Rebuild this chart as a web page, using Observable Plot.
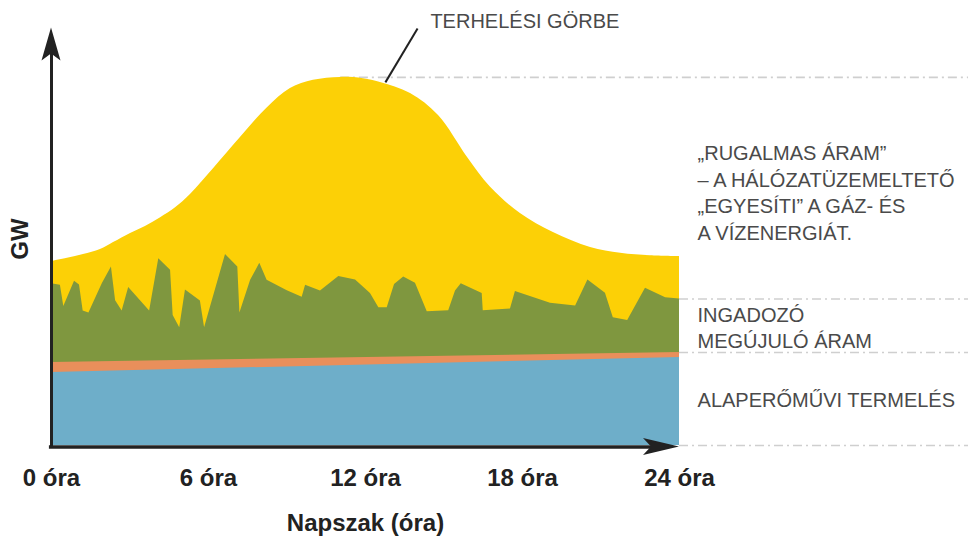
<!DOCTYPE html>
<html>
<head>
<meta charset="utf-8">
<script src="https://cdn.jsdelivr.net/npm/d3@7"></script>
<script src="https://cdn.jsdelivr.net/npm/@observablehq/plot@0.6"></script>
<style>
  body { margin: 0; background: #fff; }
  #chart { width: 968px; height: 536px; }
</style>
</head>
<body>
<div id="chart"></div>
<script>
// ---- Data (y in arbitrary GW units, 0..100) ----
const loadHours  = [0, 0.61, 1.22, 1.87, 2.37, 3.02, 3.59, 4.17, 4.74, 5.31, 6.19, 7.22, 8.25, 9.13, 10.01, 11.04, 11.92, 12.57, 13.72, 14.79, 15.9, 16.78, 17.92, 19.18, 20.6, 21.75, 22.89, 24];
const loadValues = [44.3, 45.1, 46.0, 47.2, 48.9, 51.1, 52.8, 54.9, 57.3, 60.5, 66.7, 74.2, 81.4, 86.0, 88.0, 88.7, 88.4, 87.5, 84.8, 79.5, 69.4, 62.2, 55.9, 51.3, 47.7, 46.3, 45.7, 45.5];

const renewHours  = [0, 0.34, 0.47, 0.88, 1.07, 1.21, 1.43, 1.94, 2.29, 2.45, 2.70, 2.95, 3.75, 4.10, 4.55, 4.65, 4.90, 5.12, 5.69, 5.85, 6.65, 7.12, 7.20, 7.61, 7.96, 8.24, 9.01, 9.58, 9.71, 10.28, 10.98, 11.62, 12.19, 12.51, 12.83, 13.11, 13.46, 13.91, 14.36, 15.18, 15.44, 15.66, 16.46, 16.50, 17.54, 17.73, 19.07, 20.03, 20.50, 21.17, 21.47, 22.02, 22.70, 23.47, 24];
const renewValues = [39.0, 38.6, 33.5, 39.6, 38.7, 32.4, 31.9, 39.0, 43.0, 34.9, 32.4, 38.1, 32.4, 45.0, 42.2, 31.3, 28.4, 37.5, 34.8, 28.4, 46.0, 43.0, 31.9, 39.8, 43.9, 39.8, 37.3, 35.7, 38.6, 37.2, 40.7, 39.9, 36.6, 33.2, 33.2, 38.8, 40.6, 39.1, 32.2, 32.5, 37.2, 39.0, 36.6, 32.5, 32.9, 37.1, 34.3, 33.6, 39.9, 36.7, 30.8, 30.1, 37.9, 35.6, 35.3];

const bandHours   = [0, 24];
const otherValues = [20.0, 22.4];   // orange strip (top)
const baseValues  = [17.6, 21.2];   // base-load generation (top)

const tickHours  = [0, 6, 12, 18, 24];
const tickLabels = ["0 óra", "6 óra", "12 óra", "18 óra", "24 óra"];
const xTitle = "Napszak (óra)";
const yTitle = "GW";

const curveLabel = "TERHELÉSI GÖRBE";
const sideLabels = [
  "„RUGALMAS ÁRAM”\n– A HÁLÓZATÜZEMELTETŐ\n„EGYESÍTI” A GÁZ- ÉS\nA VÍZENERGIÁT.",
  "INGADOZÓ\nMEGÚJULÓ ÁRAM",
  "ALAPERŐMŰVI TERMELÉS"
];
const sideLabelValues = [61.2, 28.6, 11.3];

// ---- Tables built from the arrays ----
const load  = loadHours.map((h, i) => ({h, v: loadValues[i]}));
const renew = renewHours.map((h, i) => ({h, v: renewValues[i]}));
const other = bandHours.map((h, i) => ({h, v: otherValues[i]}));
const base  = bandHours.map((h, i) => ({h, v: baseValues[i]}));
const peakIdx = loadValues.indexOf(d3.max(loadValues));
const rightEdge = 35.1;
const guides = [
  {v: loadValues[peakIdx], x1: loadHours[peakIdx], x2: rightEdge},
  {v: renewValues[renewValues.length - 1], x1: 24, x2: rightEdge},
  {v: otherValues[otherValues.length - 1], x1: 24, x2: rightEdge},
  {v: 0, x1: 24, x2: rightEdge}
];
const leader = [{x1: 12.76, y1: 87.5, x2: 13.99, y2: 100.5}];
const titleRow = [{h: 14.48, v: 102.2, t: curveLabel}];
const sideRows = sideLabels.map((t, i) => ({h: 24.69, v: sideLabelValues[i], t}));

const font = "'Liberation Sans', Arial, Helvetica, sans-serif";

const plot = Plot.plot({
  width: 968,
  height: 536,
  marginLeft: 51,
  marginRight: 289,
  marginTop: 30,
  marginBottom: 91,
  x: {domain: [0, 24], axis: null},
  y: {domain: [0, 100], axis: null},
  style: {fontFamily: font, background: "transparent", overflow: "visible"},
  marks: [
    Plot.ruleY(guides, {y: "v", x1: "x1", x2: "x2", stroke: "#cfcfcf", strokeWidth: 1.6, strokeDasharray: "9,4,2,4"}),
    Plot.areaY(load, {x: "h", y: "v", fill: "#fcd006", curve: "catmull-rom"}),
    Plot.areaY(renew, {x: "h", y: "v", fill: "#7f973f"}),
    Plot.areaY(other, {x: "h", y: "v", fill: "#e98f5b"}),
    Plot.areaY(base, {x: "h", y: "v", fill: "#6eaec9"}),
    Plot.ruleX([0], {y1: -0.4, y2: 96, stroke: "#222", strokeWidth: 3}),
    Plot.ruleY([0], {y: d => d - 0.35, x1: -0.08, x2: 23, stroke: "#222", strokeWidth: 3.5}),
    Plot.link(leader, {x1: "x1", y1: "y1", x2: "x2", y2: "y2", stroke: "#222", strokeWidth: 2}),
    Plot.text(titleRow, {x: "h", y: "v", text: "t", textAnchor: "start", fontSize: 20, fill: "#4a4a4a"}),
    Plot.text(sideRows, {x: "h", y: "v", text: "t", textAnchor: "start", lineAnchor: "middle", fontSize: 20, lineHeight: 1.32, fill: "#4a4a4a"}),
    Plot.text(tickHours, {x: d => d, text: (d, i) => tickLabels[i], frameAnchor: "bottom", lineAnchor: "middle", dy: 33, fontSize: 24, fontWeight: "bold", fill: "#222"}),
    Plot.text([xTitle], {frameAnchor: "bottom", lineAnchor: "middle", textAnchor: "middle", dy: 78, fontSize: 24, fontWeight: "bold", fill: "#222"}),
    Plot.text([yTitle], {frameAnchor: "left", textAnchor: "middle", lineAnchor: "middle", dx: -31, dy: 1, rotate: -90, fontSize: 24, fontWeight: "bold", fill: "#222"})
  ]
});

document.getElementById("chart").appendChild(plot);

// Filled arrowheads at the ends of the axes, positioned through the Plot scales
const X = plot.scale("x"), Y = plot.scale("y");
const svg = d3.select(plot);
const yx = X.apply(0), yTip = Y.apply(100.6);
svg.append("path")
  .attr("d", `M${yx},${yTip} L${yx + 9.5},${yTip + 33} L${yx},${yTip + 26} L${yx - 9.5},${yTip + 33} Z`)
  .attr("fill", "#222");
const xTip = X.apply(24), xy = Y.apply(0) + 1.5;
svg.append("path")
  .attr("d", `M${xTip},${xy} L${xTip - 36},${xy - 8.5} L${xTip - 28},${xy} L${xTip - 36},${xy + 8.5} Z`)
  .attr("fill", "#222");
</script>
</body>
</html>
